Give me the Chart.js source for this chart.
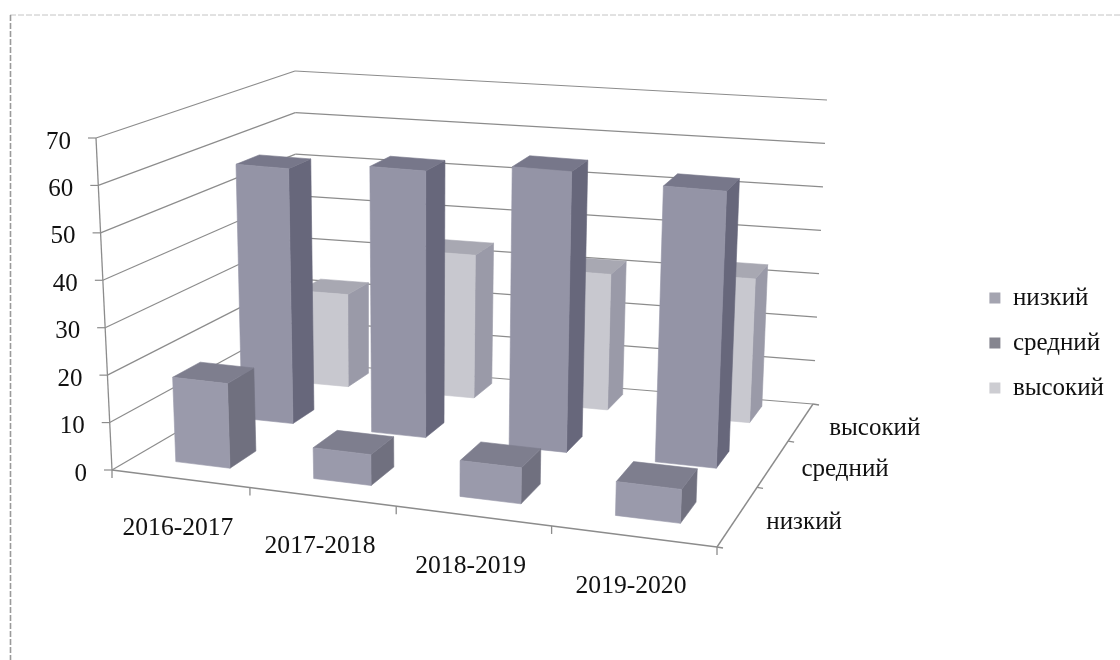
<!DOCTYPE html>
<html><head><meta charset="utf-8">
<style>html,body{margin:0;padding:0;background:#fff;overflow:hidden}canvas{display:block}</style>
<script src="https://cdn.jsdelivr.net/npm/chart.js@4"></script></head>
<body><canvas id="c" width="1120" height="660"></canvas>
<script>
const categories = ['2016-2017','2017-2018','2018-2019','2019-2020'];
const seriesNames = ['низкий','средний','высокий'];
const low = [18,6.5,7.5,7];
const mid = [57,59,61.5,60];
const high = [21.5,33,31,32.5];
const frontColors = ['#9a9aab','#9494a6','#c8c8cf'];
const sideColors = ['#70707f','#67677b','#9a9aa8'];
const topColors = ['#7e7e8e','#77778a','#a8a8b2'];
const legendColors = ['#a4a4b0','#85858f','#cdcdd2'];
const FONT = '"Liberation Serif"';

// box corners of the 3D plot [u,d]: bottom plane and top plane, with foreshortening of u and d
const floorFL=[112,470],floorFR=[717,547],floorBR=[813,404],floorBL=[297,362];
const topFL=[96,138],topFR=[731,201],topBR=[827,100],topBL=[295,71];
const foreU=-0.114, foreD=0.43;
const mix=(p,q,t)=>[p[0]+(q[0]-p[0])*t,p[1]+(q[1]-p[1])*t];
const plane=(fl,fr,br,bl,u,d)=>mix(mix(fl,fr,u),mix(bl,br,u),d);
const P=(u,d,w)=>{
  const uu=u*(1+foreU)/(1+foreU*u), dd=d*(1+foreD)/(1+foreD*d);
  return mix(plane(floorFL,floorFR,floorBR,floorBL,uu,dd),plane(topFL,topFR,topBR,topBL,uu,dd),w);
};

// depth range of each row of bars, and a small sideways shift of each row within its cells
const rowFront = [0.09,0.425,0.785];
const rowBack = [0.21,0.55,0.94];
const rowShiftU = [0.002,-0.005,-0.006];
function line(ctx,p,q,col,lw){ctx.strokeStyle=col;ctx.lineWidth=lw;ctx.beginPath();ctx.moveTo(p[0],p[1]);ctx.lineTo(q[0],q[1]);ctx.stroke();}
function poly(ctx,pts,col){ctx.fillStyle=col;ctx.strokeStyle=col;ctx.lineWidth=0.6;ctx.beginPath();pts.forEach((p,n)=>n?ctx.lineTo(p[0],p[1]):ctx.moveTo(p[0],p[1]));ctx.closePath();ctx.fill();ctx.stroke();}

const box3d = {
  id:'box3d',
  beforeDraw(chart){
    const ctx=chart.ctx;ctx.save();
    ctx.fillStyle='#fff';ctx.fillRect(0,0,chart.width,chart.height);
    ctx.setLineDash([6,2]);
    line(ctx,[10,15],[1120,15],'#c4c4c4',1);
    line(ctx,[10.5,15],[10.5,660],'#9a9a9a',1.6);
    ctx.setLineDash([]);
    ctx.restore();
  },
  beforeDatasetsDraw(chart){
    const ctx=chart.ctx,ys=chart.scales.y,xs=chart.scales.x,area=chart.chartArea;
    const toW=v=>(area.bottom-ys.getPixelForValue(v))/(area.bottom-area.top);
    const toU=px=>(px-area.left)/(area.right-area.left);
    ctx.save();
    const GRID='#8c8c8c';
    ys.ticks.forEach(t=>{
      const w=toW(t.value);
      line(ctx,P(0,0,w),P(0,1,w),GRID,1.2);
      line(ctx,P(0,1,w),P(1,1,w),GRID,1.2);
      const p=P(0,0,w);
      line(ctx,[p[0]-8,p[1]],p,GRID,1.2);
      ctx.fillStyle='#111';ctx.font='25px '+FONT;ctx.textAlign='right';ctx.textBaseline='middle';
      ctx.fillText(t.label,p[0]-25,p[1]+4);
    });
    line(ctx,P(0,0,0),P(0,0,1),GRID,1.3);
    line(ctx,P(0,0,0),P(1,0,0),GRID,1.4);
    line(ctx,P(1,0,0),P(1,1,0),GRID,1.4);
    const n=categories.length;
    for(let i=0;i<=n;i++){const p=P(i/n,0,0);line(ctx,p,[p[0],p[1]+8],GRID,1.3);}
    const m=seriesNames.length;
    for(let i=0;i<=m;i++){const p=P(1,i/m,0);line(ctx,p,[p[0]+6,p[1]+1],GRID,1.3);}
    // bars, back row first, geometry taken from the elements Chart.js laid out
    for(let di=chart.data.datasets.length-1;di>=0;di--){
      const meta=chart.getDatasetMeta(di);
      const d0=rowFront[di],d1=rowBack[di];
      meta.data.forEach(el=>{
        const u0=toU(el.x-el.width/2)+rowShiftU[di],u1=toU(el.x+el.width/2)+rowShiftU[di];
        const w=(area.bottom-el.y)/(area.bottom-area.top);
        const s=[P(u0,d0,0),P(u1,d0,0),P(u1,d0,w),P(u0,d0,w),P(u1,d1,0),P(u1,d1,w),P(u0,d1,w)];
        poly(ctx,[s[1],s[4],s[5],s[2]],sideColors[di]);
        poly(ctx,[s[3],s[2],s[5],s[6]],topColors[di]);
        poly(ctx,[s[0],s[1],s[2],s[3]],frontColors[di]);
      });
    }
    ctx.fillStyle='#111';ctx.font='25.6px '+FONT;ctx.textBaseline='middle';
    ctx.textAlign='center';
    xs.getLabels().forEach((lab,i)=>{const p=P(toU(xs.getPixelForTick(i)),0,0);ctx.fillText(lab,p[0]-2,p[1]+50);});
    ctx.font='25px '+FONT;
    ctx.textAlign='left';
    seriesNames.forEach((lab,i)=>{const p=P(1,(i+0.5)/m,0);ctx.fillText(lab,p[0]+28,p[1]+7);});
    ctx.restore();
    return false;
  }
};

new Chart(document.getElementById('c'),{
  type:'bar',
  data:{labels:categories,datasets:[
    {label:seriesNames[0],data:low,backgroundColor:legendColors[0]},
    {label:seriesNames[1],data:mid,backgroundColor:legendColors[1]},
    {label:seriesNames[2],data:high,backgroundColor:legendColors[2]}
  ]},
  options:{
    responsive:false,animation:false,devicePixelRatio:1,
    layout:{padding:{top:26,right:6,left:0,bottom:0}},
    datasets:{bar:{grouped:false,categoryPercentage:1,barPercentage:0.4}},
    scales:{
      x:{display:false,type:'category'},
      y:{display:false,min:0,max:70,ticks:{stepSize:10}}
    },
    plugins:{
      tooltip:{enabled:false},
      legend:{position:'right',labels:{color:'#111',boxWidth:11,boxHeight:11,padding:20,font:{family:FONT,size:25}}}
    }
  },
  plugins:[box3d]
});
</script>
</body></html>
